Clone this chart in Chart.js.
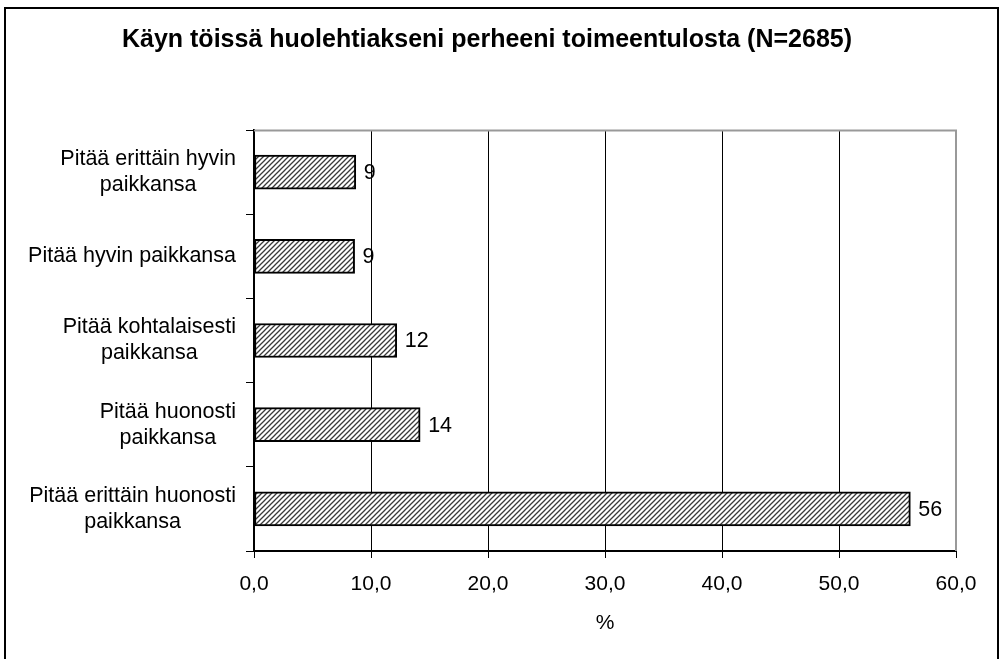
<!DOCTYPE html>
<html>
<head>
<meta charset="utf-8">
<script src="https://cdn.jsdelivr.net/npm/chart.js@4"></script>
<style>
  body { margin: 0; background: #fff; }
  #wrap { width: 1000px; height: 659px; }
</style>
</head>
<body>
<div id="wrap"><canvas id="toimeentulo"></canvas></div>
<script>
var otsikko = 'Käyn töissä huolehtiakseni perheeni toimeentulosta (N=2685)';
var vastaukset = [
    ['Pitää erittäin hyvin', 'paikkansa'],
    ['Pitää hyvin paikkansa'],
    ['Pitää kohtalaisesti', 'paikkansa'],
    ['Pitää huonosti', 'paikkansa'],
    ['Pitää erittäin huonosti', 'paikkansa']
];
var osuudet = [8.7, 8.6, 12.2, 14.2, 56.1];
var xMin = 0;
var xMax = 60;
var xStep = 10;

var fontti = 'Liberation Sans, Arial, sans-serif';

// vinoviivoitus palkkeihin
function viivoitus() {
    var c = document.createElement('canvas');
    c.width = 5;
    c.height = 5;
    var g = c.getContext('2d');
    g.fillStyle = '#fff';
    g.fillRect(0, 0, 5, 5);
    g.strokeStyle = '#3a3a3a';
    g.lineWidth = 1.3;
    g.beginPath();
    g.moveTo(-1, 6); g.lineTo(6, -1);
    g.moveTo(-1, 1); g.lineTo(1, -1);
    g.moveTo(4, 6); g.lineTo(6, 4);
    g.stroke();
    return g.createPattern(c, 'repeat');
}

// kehys, luokkien nimet ja arvot palkkien perään
var piirtoApu = {
    id: 'piirtoApu',
    beforeDraw: function (chart) {
        var ctx = chart.ctx;
        ctx.save();
        ctx.fillStyle = '#fff';
        ctx.fillRect(0, 0, chart.width, chart.height);
        ctx.strokeStyle = '#000';
        ctx.lineWidth = 2;
        ctx.strokeRect(5, 8, chart.width - 7, chart.height + 10);
        ctx.restore();
    },
    afterDraw: function (chart) {
        var ctx = chart.ctx;
        var a = chart.chartArea;
        var y = chart.scales.y;
        ctx.save();
        // harmaa yläreuna ja oikea reuna
        ctx.strokeStyle = '#999';
        ctx.lineWidth = 2;
        ctx.beginPath();
        ctx.moveTo(a.left, a.top + 0.5);
        ctx.lineTo(a.right, a.top + 0.5);
        ctx.lineTo(a.right, a.bottom);
        ctx.stroke();

        ctx.fillStyle = '#000';
        ctx.font = '21.5px ' + fontti;
        ctx.textBaseline = 'middle';
        var rivi = 26;
        vastaukset.forEach(function (rivit, i) {
            var yc = y.getPixelForValue(i);
            var leveys = 0;
            rivit.forEach(function (r) { leveys = Math.max(leveys, ctx.measureText(r).width); });
            var keski = a.left - 18 - leveys / 2;
            ctx.textAlign = 'center';
            rivit.forEach(function (r, j) {
                ctx.fillText(r, keski, yc + (j - (rivit.length - 1) / 2) * rivi);
            });
        });

        var meta = chart.getDatasetMeta(0);
        ctx.textAlign = 'left';
        meta.data.forEach(function (bar, i) {
            ctx.fillText(Math.round(osuudet[i]), bar.x + 8, bar.y + 1);
        });
        ctx.restore();
    }
};

var kaavio = new Chart(document.getElementById('toimeentulo').getContext('2d'), {
    type: 'bar',
    data: {
        labels: vastaukset,
        datasets: [{
            data: osuudet,
            backgroundColor: viivoitus(),
            borderColor: '#000',
            borderWidth: 2,
            borderSkipped: false,
            barThickness: 34
        }]
    },
    plugins: [piirtoApu],
    options: {
        indexAxis: 'y',
        responsive: true,
        maintainAspectRatio: false,
        animation: false,
        layout: {
            padding: { left: 18, right: 44, top: 10, bottom: 18 }
        },
        plugins: {
            legend: { display: false },
            tooltip: { enabled: false },
            title: {
                display: true,
                text: otsikko,
                color: '#000',
                font: { size: 25, weight: 'bold', family: fontti },
                padding: { top: 15, bottom: 75 }
            }
        },
        scales: {
            x: {
                min: xMin,
                max: xMax,
                afterFit: function (s) { s.height = 90; },
                ticks: {
                    stepSize: xStep,
                    color: '#000',
                    padding: 14,
                    font: { size: 21, family: fontti },
                    callback: function (v) { return v.toFixed(1).replace('.', ','); }
                },
                grid: {
                    color: function (c) { return c.index === 6 ? '#999' : '#000'; },
                    tickColor: '#000',
                    tickLength: 7,
                    lineWidth: 1
                },
                border: { color: '#000', width: 2 },
                title: {
                    display: true,
                    text: '%',
                    color: '#000',
                    font: { size: 21, family: fontti },
                    padding: { top: 6, bottom: 5 }
                }
            },
            y: {
                afterFit: function (s) { s.width = 236; },
                ticks: { display: false },
                grid: {
                    drawOnChartArea: false,
                    tickColor: '#000',
                    tickLength: 8
                },
                border: { color: '#000', width: 2 }
            }
        }
    }
});
</script>
</body>
</html>
